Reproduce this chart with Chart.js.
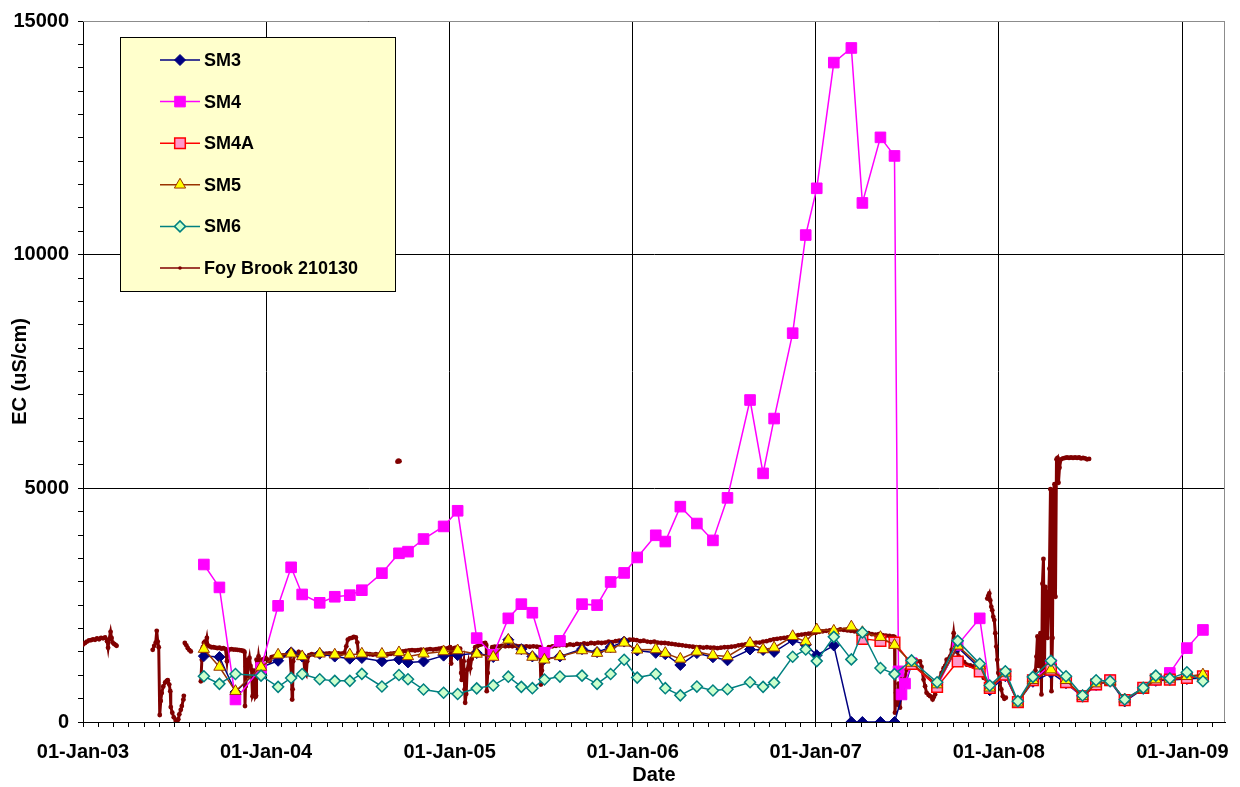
<!DOCTYPE html>
<html><head><meta charset="utf-8">
<script src="https://cdn.jsdelivr.net/npm/chart.js@4.4.1/dist/chart.umd.min.js"></script>
<style>html,body{margin:0;padding:0;background:#fff;}#wrap{width:1240px;height:787px;position:relative;}</style>
</head><body><div id="wrap"><canvas id="c" width="1240" height="787"></canvas></div>
<script>
// ---------- DATA ----------
const seriesNames = ['SM3', 'SM4', 'SM4A', 'SM5', 'SM6', 'Foy Brook 210130'];
const xAxisTitle = 'Date';
const yAxisTitle = 'EC (uS/cm)';
const xMajorTickDates = ['2003-01-01','2004-01-01','2005-01-01','2006-01-01','2007-01-01','2008-01-01','2009-01-01'];
const xMajorTickLabels = ['01-Jan-03','01-Jan-04','01-Jan-05','01-Jan-06','01-Jan-07','01-Jan-08','01-Jan-09'];
const xAxisEnd = '2009-03-27';
const yMajorTicks = [0, 5000, 10000, 15000];

const sampleDates = [
'2003-08-30','2003-09-30','2003-11-01','2003-12-22','2004-01-25','2004-02-20','2004-03-13','2004-04-17','2004-05-17','2004-06-16',
'2004-07-10','2004-08-19','2004-09-22','2004-10-10','2004-11-10','2004-12-20','2005-01-17','2005-02-24','2005-03-29','2005-04-28',
'2005-05-24','2005-06-15','2005-07-09','2005-08-09','2005-09-22','2005-10-22','2005-11-18','2005-12-15','2006-01-10','2006-02-16',
'2006-03-07','2006-04-06','2006-05-09','2006-06-10','2006-07-09','2006-08-23','2006-09-18','2006-10-10','2006-11-16','2006-12-12',
'2007-01-03','2007-02-06','2007-03-13','2007-04-04','2007-05-10','2007-06-07','2007-06-15','2007-06-21','2007-06-28','2007-07-11',
'2007-08-31','2007-10-11','2007-11-24','2007-12-14','2008-01-14','2008-02-08','2008-03-09','2008-04-14','2008-05-14','2008-06-16',
'2008-07-13','2008-08-10','2008-09-08','2008-10-15','2008-11-09','2008-12-07','2009-01-10','2009-02-11'];

const sm3Values = [
1410,1390,640,1170,1310,1490,1400,1460,1400,1355,
1370,1300,1340,1275,1296,1420,1430,1474,1390,1760,
1559,1403,1347,1403,1559,1495,1602,1721,1530,1480,
1450,1220,1474,1385,1320,1552,1540,1500,1750,1650,
1430,1636,0,0,0,0,null,null,null,1240,
800,1600,1150,680,980,420,860,1050,830,540,
790,870,440,710,880,900,920,940];

const sm4Values = [
3370,2880,482,1156,2486,3310,2730,2550,2680,2714,
2820,3185,3610,3645,3915,4185,4520,1795,1439,2218,
2522,2338,1481,1736,2522,2501,2996,3190,3521,3995,
3861,4608,4247,3886,4796,6890,5320,6493,8320,10420,
11420,14110,14423,11107,12510,12113,1084,589,822,1262,
752,1650,2218,731,1014,425,893,1226,850,552,
801,893,467,731,907,1050,1581,1970];

const sm4aValues = [
null,null,null,null,null,null,null,null,null,null,
null,null,null,null,null,null,null,null,null,null,
null,null,null,null,null,null,null,null,null,null,
null,null,null,null,null,null,null,null,null,null,
null,null,null,1779,1736,1700,null,null,null,1240,
752,1296,1084,731,1014,425,893,1120,850,552,
801,893,467,731,907,907,943,978];

const sm5Values = [
1560,1177,659,1177,1439,1460,1403,1460,1440,1440,
1460,1456,1488,1403,1460,1509,1530,1456,1390,1757,
1527,1390,1332,1403,1530,1474,1562,1694,1545,1552,
1474,1350,1502,1430,1403,1687,1552,1590,1835,1721,
1978,1950,2040,1920,1815,1645,null,null,null,1262,
801,1630,1205,731,1050,412,893,1120,893,552,
822,871,482,710,907,922,978,1014];

const sm6Values = [
978,816,1028,992,752,943,1028,915,880,880,
1030,760,1005,915,695,625,600,720,783,970,
752,724,910,972,992,816,1028,1332,950,1028,
724,570,758,674,702,850,752,843,1396,1550,
1303,1822,1340,1915,1156,1025,null,null,null,1318,
850,1736,1247,780,1084,446,965,1311,978,567,
893,871,482,731,992,929,1063,871];

const foyDates = [
'2003-01-01','2003-01-05','2003-01-09','2003-01-13','2003-01-17','2003-01-21','2003-01-25','2003-01-29','2003-02-02','2003-02-06',
'2003-02-10','2003-02-14','2003-02-18','2003-02-20','2003-02-22','2003-02-25','2003-02-27','2003-03-01','2003-03-04','2003-03-07',
'2003-03-09','2003-04-01',
'2003-05-20','2003-05-23','2003-05-26','2003-05-28','2003-05-30','2003-06-01','2003-06-03','2003-06-05','2003-06-07','2003-06-10',
'2003-06-14','2003-06-17','2003-06-19','2003-06-22','2003-06-24','2003-06-25','2003-06-28','2003-07-01','2003-07-05','2003-07-08',
'2003-07-10','2003-07-12','2003-07-15','2003-07-17','2003-07-20','2003-07-21','2003-07-22',
'2003-07-23','2003-07-26','2003-07-29','2003-08-01','2003-08-04','2003-08-10',
'2003-08-24','2003-08-26','2003-08-28','2003-08-30','2003-09-01','2003-09-03','2003-09-05','2003-09-07','2003-09-10','2003-09-14',
'2003-09-18','2003-09-22','2003-09-26','2003-09-30','2003-10-04','2003-10-08','2003-10-12','2003-10-15','2003-10-17','2003-10-20',
'2003-10-24','2003-10-28','2003-11-01','2003-11-05','2003-11-09','2003-11-13','2003-11-17','2003-11-19','2003-11-20','2003-11-21',
'2003-11-22','2003-11-24','2003-11-25','2003-11-27','2003-11-29','2003-12-01','2003-12-03','2003-12-05','2003-12-07','2003-12-09',
'2003-12-11','2003-12-12','2003-12-13','2003-12-15','2003-12-17','2003-12-19','2003-12-21','2003-12-24','2003-12-27','2003-12-31',
'2004-01-03','2004-01-08','2004-01-12','2004-01-16','2004-01-20','2004-01-25','2004-01-30','2004-02-04','2004-02-09','2004-02-14',
'2004-02-18','2004-02-21','2004-02-22','2004-02-23','2004-02-24','2004-02-27','2004-03-02','2004-03-06','2004-03-10','2004-03-15',
'2004-03-19','2004-03-21','2004-03-23','2004-03-27','2004-04-01','2004-04-06','2004-04-12','2004-04-18','2004-04-24','2004-04-30',
'2004-05-06','2004-05-12','2004-05-18','2004-05-24','2004-05-30','2004-06-05','2004-06-09','2004-06-12','2004-06-16','2004-06-20',
'2004-06-24','2004-06-28','2004-07-01','2004-07-03','2004-07-08','2004-07-14','2004-07-20','2004-07-26','2004-08-01','2004-08-07',
'2004-08-13','2004-08-19','2004-08-25','2004-08-31','2004-09-06','2004-09-12','2004-09-17','2004-09-18','2004-09-19','2004-09-21',
'2004-09-23','2004-09-24','2004-09-25','2004-09-30','2004-10-06','2004-10-12','2004-10-18','2004-10-24','2004-10-30','2004-11-05',
'2004-11-11','2004-11-17','2004-11-23','2004-11-29','2004-12-05','2004-12-11','2004-12-17','2004-12-23','2004-12-29',
'2005-01-02','2005-01-04','2005-01-06','2005-01-10','2005-01-14','2005-01-18','2005-01-22','2005-01-24','2005-01-25','2005-01-27',
'2005-01-29','2005-01-31','2005-02-01','2005-02-03','2005-02-05','2005-02-08','2005-02-11','2005-02-14','2005-02-17','2005-02-21',
'2005-02-25','2005-03-01','2005-03-05','2005-03-09','2005-03-13','2005-03-15','2005-03-16','2005-03-18','2005-03-20','2005-03-23',
'2005-03-27','2005-04-01','2005-04-08','2005-04-15','2005-04-22','2005-04-29','2005-05-06','2005-05-13','2005-05-20','2005-05-27',
'2005-06-03','2005-06-10','2005-06-17','2005-06-24','2005-06-30','2005-07-02','2005-07-04','2005-07-06','2005-07-09','2005-07-13',
'2005-07-18','2005-07-25','2005-08-01','2005-08-08','2005-08-15','2005-08-22','2005-08-29','2005-09-05','2005-09-12','2005-09-19',
'2005-09-26','2005-10-03','2005-10-10','2005-10-17','2005-10-24','2005-10-31','2005-11-07','2005-11-14','2005-11-21','2005-11-28',
'2005-12-05','2005-12-12','2005-12-19','2005-12-26',
'2006-01-02','2006-01-09','2006-01-16','2006-01-23','2006-01-30','2006-02-06','2006-02-13','2006-02-20','2006-02-27','2006-03-06',
'2006-03-13','2006-03-20','2006-03-27','2006-04-03','2006-04-10','2006-04-17','2006-04-24','2006-05-01','2006-05-08','2006-05-15',
'2006-05-22','2006-05-29','2006-06-05','2006-06-12','2006-06-19','2006-06-26','2006-07-03','2006-07-10','2006-07-17','2006-07-24',
'2006-07-31','2006-08-07','2006-08-14','2006-08-21','2006-08-28','2006-09-04','2006-09-11','2006-09-18','2006-09-25','2006-10-02',
'2006-10-09','2006-10-16','2006-10-23','2006-10-30','2006-11-06','2006-11-13','2006-11-20','2006-11-27','2006-12-04','2006-12-11',
'2006-12-18','2006-12-25',
'2007-01-01','2007-01-08','2007-01-15','2007-01-22','2007-01-29','2007-02-05','2007-02-12','2007-02-19','2007-02-26','2007-03-05',
'2007-03-12','2007-03-19','2007-03-26','2007-04-02','2007-04-09','2007-04-16','2007-04-23','2007-04-30','2007-05-07','2007-05-14',
'2007-05-21','2007-05-28','2007-06-04','2007-06-07','2007-06-08','2007-06-10','2007-06-13','2007-06-15','2007-06-18','2007-06-21',
'2007-06-25','2007-06-28','2007-07-01','2007-07-05','2007-07-08','2007-07-12','2007-07-15','2007-07-21','2007-07-28','2007-07-31',
'2007-08-04','2007-08-07','2007-08-10','2007-08-14','2007-08-17','2007-08-22','2007-08-24','2007-08-27','2007-08-30','2007-09-03',
'2007-09-09','2007-09-13','2007-09-16','2007-09-19','2007-09-26','2007-09-29','2007-10-03','2007-10-06','2007-10-10','2007-10-13',
'2007-10-19','2007-10-24','2007-10-29','2007-11-05','2007-11-12','2007-11-18','2007-11-25','2007-12-02','2007-12-05',
'2007-12-09','2007-12-11','2007-12-13','2007-12-15','2007-12-17','2007-12-19','2007-12-21','2007-12-23','2007-12-25','2007-12-27',
'2007-12-29','2007-12-31','2008-01-03','2008-01-06','2008-01-09','2008-01-12','2008-01-15','2008-02-20',
'2008-03-14','2008-03-16','2008-03-18','2008-03-20','2008-03-22','2008-03-24','2008-03-26','2008-03-28','2008-03-30','2008-04-01',
'2008-04-03','2008-04-05','2008-04-07','2008-04-09','2008-04-11','2008-04-13','2008-04-15','2008-04-17','2008-04-19','2008-04-21',
'2008-04-23','2008-04-25','2008-04-27','2008-04-29','2008-05-01','2008-05-04','2008-05-08','2008-05-12','2008-05-16','2008-05-20',
'2008-05-24','2008-05-28','2008-06-01','2008-06-05','2008-06-09','2008-06-13','2008-06-17','2008-06-21','2008-06-25','2008-06-29'];

const foyValues = [
1660,1690,1720,1745,1750,1770,1760,1790,1770,1800,
1790,1810,1730,1590,1770,1930,1800,1700,1670,1650,
1630,null,
1545,1630,1700,1950,1720,1600,150,450,620,760,
850,880,893,800,660,320,200,100,30,0,
60,164,260,340,480,560,null,
1690,1640,1580,1540,1510,null,
870,1330,1600,1690,1720,1690,1800,1640,1620,1600,
1600,1590,1580,1590,1570,1580,1560,1300,1520,1550,
1560,1550,1550,1545,1540,1530,1520,1500,340,765,
1190,1330,980,1250,1370,1200,1120,552,600,1100,
540,560,1332,1200,1403,1250,1300,1332,1340,1370,
1340,1300,1390,1400,1410,1420,1430,1425,1430,1440,
1430,900,480,700,1300,1440,1450,1500,1430,1420,
1050,1014,1300,1430,1450,1440,1450,1460,1455,1460,
1470,1460,1465,1470,1460,1480,1620,1760,1790,1800,
1820,1810,1700,1480,1470,1460,1455,1450,1440,1450,
1440,1430,1440,1450,1460,1470,1480,null,5570,5590,
5580,null,1500,1510,1520,1530,1540,1530,1540,1550,
1540,1550,1560,1550,1560,1570,1580,1570,1580,
1600,1250,1550,1580,1590,1580,1570,1050,900,1200,
1300,700,412,600,1120,1300,1150,1350,1474,1600,
1620,1650,1660,1680,1690,1650,659,1050,1330,1510,
1600,1610,1620,1630,1620,1625,1620,1630,1620,1610,
1620,1610,1620,1610,1600,801,1100,1332,1480,1560,
1600,1620,1630,1640,1650,1640,1660,1650,1670,1660,
1680,1670,1690,1680,1700,1690,1700,1720,1710,1730,
1740,1750,1740,1760,
1760,1750,1730,1740,1720,1710,1720,1700,1690,1690,
1680,1670,1660,1650,1640,1630,1620,1610,1600,1600,
1590,1600,1590,1590,1580,1590,1600,1600,1610,1620,
1640,1650,1660,1680,1690,1700,1700,1720,1730,1750,
1770,1780,1790,1800,1810,1830,1840,1860,1870,1880,
1890,1900,
1910,1930,1940,1950,1960,1970,1960,1980,1970,1960,
1950,1940,1920,1900,1890,1900,1880,1870,1880,1860,
1850,1840,1830,1820,200,625,370,820,306,907,
800,978,1120,1200,1262,1290,1296,1300,1296,1180,
907,765,625,580,552,482,530,589,765,907,
1050,1150,1200,1332,1403,1545,1900,1615,1500,1403,
1350,1280,1226,1210,1190,1130,1084,943,null,
2640,2700,2750,2600,2465,2390,2250,2180,1900,1615,
1330,1050,837,695,552,497,520,null,
1100,1400,1830,1200,1500,1900,590,2960,3490,1050,
2890,2700,1800,2500,3280,4980,660,1800,4950,5090,
2680,5620,5650,5120,5440,5620,5640,5650,5660,5650,
5660,5650,5660,5650,5660,5640,5650,5640,5620,5630];

// ---------- HELPERS ----------
const DAY0 = Date.UTC(2003, 0, 1);
function toDay(s) { const p = s.split('-').map(Number); return (Date.UTC(p[0], p[1] - 1, p[2]) - DAY0) / 864e5; }
function pts(dates, vals) { return dates.map((d, i) => ({ x: toDay(d), y: vals[i] })); }

const majorDays = xMajorTickDates.map(toDay);
const xMax = toDay(xAxisEnd);
const xTicks = [];
for (let i = 0; i < majorDays.length; i++) {
  xTicks.push(majorDays[i]);
  const a = majorDays[i];
  const b = i + 1 < majorDays.length ? majorDays[i + 1] : a + 365.25;
  for (let k = 1; k < 12; k++) { const v = a + (b - a) * k / 12; if (v <= xMax) xTicks.push(v); }
}
function majorIndex(v) { for (let i = 0; i < majorDays.length; i++) if (Math.abs(majorDays[i] - v) < 0.01) return i; return -1; }

const FONT = 'Arial, "Liberation Sans", Helvetica, sans-serif';

function drawMarker(ctx, style, x, y, r, fill, stroke, bw) {
  ctx.save();
  ctx.beginPath();
  if (style === 'rect') { const s = Math.SQRT1_2 * r; ctx.rect(x - s, y - s, 2 * s, 2 * s); }
  else if (style === 'rectRot') { ctx.moveTo(x, y - r); ctx.lineTo(x + r, y); ctx.lineTo(x, y + r); ctx.lineTo(x - r, y); ctx.closePath(); }
  else if (style === 'triangle') {
    let a = 0; ctx.moveTo(x + Math.sin(a) * r, y - Math.cos(a) * r);
    a += 2 * Math.PI / 3; ctx.lineTo(x + Math.sin(a) * r, y - Math.cos(a) * r);
    a += 2 * Math.PI / 3; ctx.lineTo(x + Math.sin(a) * r, y - Math.cos(a) * r); ctx.closePath();
  } else { ctx.arc(x, y, r, 0, Math.PI * 2); }
  ctx.fillStyle = fill; ctx.fill();
  if (bw > 0) { ctx.lineWidth = bw; ctx.strokeStyle = stroke; ctx.stroke(); }
  ctx.restore();
}

const boxLegend = {
  id: 'boxLegend',
  afterDatasetsDraw(chart) {
    const ctx = chart.ctx;
    ctx.save();
    ctx.fillStyle = '#FFFFCC'; ctx.strokeStyle = '#000'; ctx.lineWidth = 1;
    ctx.fillRect(120.5, 37.5, 275, 254); ctx.strokeRect(120.5, 37.5, 275, 254);
    chart.data.datasets.forEach((ds, i) => {
      const y = 60 + i * 41.6;
      ctx.strokeStyle = ds.borderColor; ctx.lineWidth = Math.min(ds.borderWidth, 1.5);
      ctx.beginPath(); ctx.moveTo(160, y); ctx.lineTo(200, y); ctx.stroke();
      drawMarker(ctx, ds.pointStyle, 180, y, ds.pointStyle === 'circle' ? 1.8 : ds.pointRadius, ds.pointBackgroundColor, ds.pointBorderColor, ds.pointBorderWidth);
      ctx.fillStyle = '#000'; ctx.font = 'bold 18px ' + FONT; ctx.textBaseline = 'middle'; ctx.textAlign = 'left';
      ctx.fillText(ds.label, 204, y + 1);
    });
    ctx.restore();
  }
};

const frameLines = {
  id: 'frameLines',
  beforeDatasetsDraw(chart) {
    const a = chart.chartArea, ctx = chart.ctx;
    ctx.save(); ctx.strokeStyle = '#8c8c8c'; ctx.lineWidth = 1;
    ctx.beginPath(); ctx.moveTo(a.left, a.top + 0.5); ctx.lineTo(a.right, a.top + 0.5);
    ctx.moveTo(a.right - 0.5, a.top); ctx.lineTo(a.right - 0.5, a.bottom); ctx.stroke();
    ctx.restore();
  }
};

const common = { showLine: true, tension: 0, fill: false, spanGaps: true, borderWidth: 1.5, pointBorderWidth: 1 };

new Chart(document.getElementById('c'), {
  type: 'scatter',
  data: {
    datasets: [
      Object.assign({}, common, { label: seriesNames[0], data: pts(sampleDates, sm3Values), borderColor: '#000080', pointStyle: 'rectRot', pointRadius: 5.5, pointBackgroundColor: '#000080', pointBorderColor: '#000080', order: 6 }),
      Object.assign({}, common, { label: seriesNames[1], data: pts(sampleDates, sm4Values), borderColor: '#FF00FF', pointStyle: 'rect', pointRadius: 7.5, pointBackgroundColor: '#FF00FF', pointBorderColor: '#FF00FF', order: 5 }),
      Object.assign({}, common, { label: seriesNames[2], data: pts(sampleDates, sm4aValues), borderColor: '#FF0000', pointStyle: 'rect', pointRadius: 7.5, pointBackgroundColor: '#FF99CC', pointBorderColor: '#FF0000', pointBorderWidth: 1.5, order: 4 }),
      Object.assign({}, common, { label: seriesNames[3], data: pts(sampleDates, sm5Values), borderColor: '#993300', pointStyle: 'triangle', pointRadius: 6.5, pointBackgroundColor: '#FFFF00', pointBorderColor: '#993300', order: 3 }),
      Object.assign({}, common, { label: seriesNames[4], data: pts(sampleDates, sm6Values), borderColor: '#008080', pointStyle: 'rectRot', pointRadius: 5.5, pointBackgroundColor: '#CCFFCC', pointBorderColor: '#008080', pointBorderWidth: 1.5, order: 2 }),
      Object.assign({}, common, { label: seriesNames[5], data: pts(foyDates, foyValues), borderColor: '#800000', pointStyle: 'circle', pointRadius: 2.4, pointBackgroundColor: '#800000', pointBorderColor: '#800000', pointBorderWidth: 0, borderWidth: 3, spanGaps: false, order: 10 })
    ]
  },
  options: {
    responsive: false, animation: false, devicePixelRatio: 1,
    layout: { padding: { left: 0, right: 15, top: 16, bottom: 0 } },
    plugins: { legend: { display: false }, tooltip: { enabled: false } },
    scales: {
      x: {
        type: 'linear', min: 0, max: xMax,
        afterFit(s) { s.height = 65; },
        afterBuildTicks(s) { s.ticks = xTicks.map(v => ({ value: v })); },
        ticks: {
          autoSkip: false, maxRotation: 0, minRotation: 0, padding: 13, color: '#000',
          font: { family: FONT, size: 20, weight: 'bold' },
          callback: (v) => { const i = majorIndex(v); return i >= 0 ? xMajorTickLabels[i] : ''; }
        },
        grid: {
          color: (c) => (c.tick && majorIndex(c.tick.value) >= 0) ? '#000' : 'rgba(0,0,0,0)',
          tickColor: '#000', tickLength: 5, lineWidth: 1
        },
        border: { color: '#000', width: 1 },
        title: { display: true, text: xAxisTitle, color: '#000', font: { family: FONT, size: 20, weight: 'bold' }, padding: { top: 0, bottom: 0 } }
      },
      y: {
        min: 0, max: 15000,
        afterFit(s) { s.width = 83; },
        ticks: {
          stepSize: 500, autoSkip: false, padding: 9, color: '#000',
          font: { family: FONT, size: 20, weight: 'bold' },
          callback: (v) => yMajorTicks.includes(v) ? String(v) : ''
        },
        grid: {
          color: (c) => (c.tick && yMajorTicks.includes(c.tick.value)) ? '#000' : 'rgba(0,0,0,0)',
          tickColor: '#000', tickLength: 5, lineWidth: 1
        },
        border: { color: '#000', width: 1 },
        title: { display: true, text: yAxisTitle, color: '#000', font: { family: FONT, size: 20, weight: 'bold' }, padding: { top: 8, bottom: 0 } }
      }
    }
  },
  plugins: [frameLines, boxLegend]
});
</script>
</body></html>
